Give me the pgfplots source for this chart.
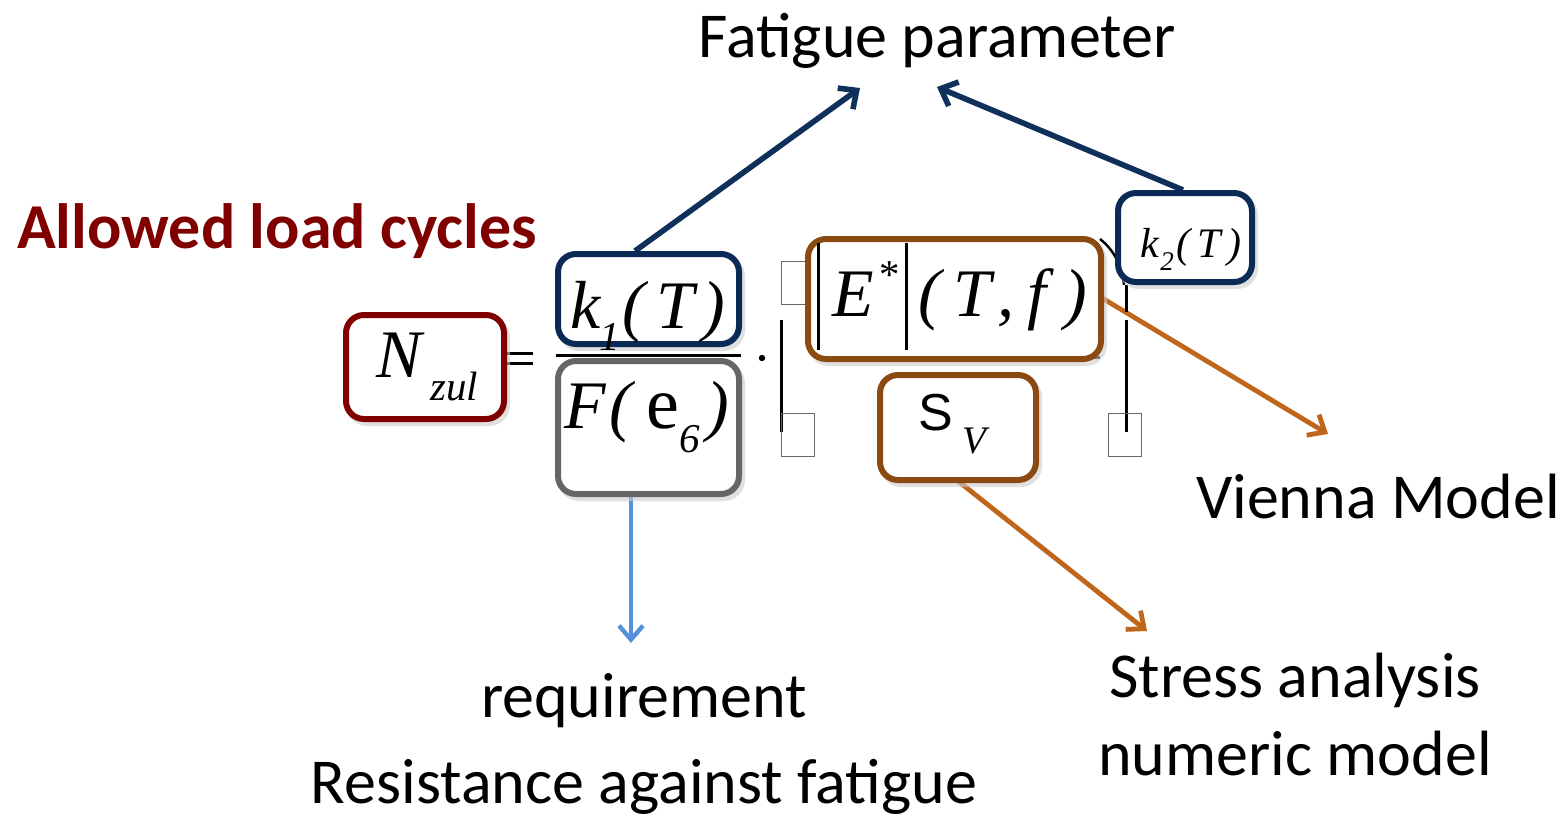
\documentclass[border=0pt]{standalone}
\usepackage{pgfplots}
\pgfplotsset{compat=1.18}
\usepackage{fontspec}
\setmainfont{Carlito}
\newfontfamily\tnr{Liberation Serif}
\newfontfamily\arial{Liberation Sans}
\usetikzlibrary{arrows.meta}
\definecolor{dred}{HTML}{800000}
\definecolor{navy}{HTML}{0B2A55}
\definecolor{navyarrow}{HTML}{10305C}
\definecolor{boxgray}{HTML}{666666}
\definecolor{brownbox}{HTML}{8B4A12}
\definecolor{orangearrow}{HTML}{C0661A}
\definecolor{bluearrow}{HTML}{5590DA}
\newcommand{\txt}{\fontsize{32}{38}\selectfont}
\newcommand{\mbig}{\fontsize{34}{40}\selectfont\tnr\itshape}
\newcommand{\msub}{\fontsize{20.5}{24}\selectfont\tnr\itshape}
\newcommand{\msmall}{\fontsize{21}{25}\selectfont\tnr\itshape}
\newcommand{\mtiny}{\fontsize{13.5}{16}\selectfont\tnr\itshape}
\newcommand{\rbox}[5]{%
  \draw[black!20, line width=3pt, opacity=0.6, rounded corners=9pt] (#1+3,#2+4) rectangle (#3+3,#4+4);
  \draw[#5, line width=3pt, rounded corners=9pt, fill=white] (#1,#2) rectangle (#3,#4);}
\begin{document}
\begin{tikzpicture}
\begin{axis}[name=ax, at={(0,0)}, anchor=south west, scale only axis,
  width=781.5pt, height=409.5pt, xmin=0, xmax=1563, ymin=0, ymax=819,
  y dir=reverse, hide axis, clip=false]
% arrows
\draw[navyarrow, line width=2.8pt, -{Straight Barb[length=7pt,width=13pt]}] (635,251) -- (860,88);
\draw[navyarrow, line width=2.8pt, -{Straight Barb[length=7pt,width=13pt]}] (1183,190) -- (937,87);
\draw[orangearrow, line width=2.4pt, -{Straight Barb[length=7pt,width=12pt]}] (1102,298) -- (1328,434);
\draw[orangearrow, line width=2.4pt, -{Straight Barb[length=7pt,width=12pt]}] (958,481) -- (1147,631);
\draw[bluearrow, line width=2.2pt, -{Straight Barb[length=7pt,width=12pt]}] (631,497) -- (631,643);
% formula lines
\draw[line width=1.5pt] (507,353.5) -- (533,353.5);
\draw[line width=1.5pt] (507,363.5) -- (533,363.5);
\draw[line width=1.5pt] (556,355) -- (741,355);
\fill (762,358) circle[radius=1.6pt];
\draw[line width=1.5pt] (781,320) -- (781,432);
\draw[line width=1.5pt] (1126,285) -- (1126,312);
\draw[line width=1.5pt] (1126,320) -- (1126,432);
\draw[line width=1.5pt] (815,357) -- (1100,357);
\draw[line width=1.2pt] (1100,239) .. controls (1114,250) and (1122,266) .. (1124,285);
\draw[black!60, line width=0.5pt] (781,261) rectangle (813,304);
\draw[black!60, line width=0.5pt] (781,413) rectangle (814,456);
\draw[black!60, line width=0.5pt] (1108,413) rectangle (1141,456);
% boxes
\rbox{346}{315}{504}{419}{dred}
\rbox{558}{254}{739}{344}{navy}
\rbox{558}{361}{739}{494}{boxgray}
\rbox{808}{239}{1101}{359}{brownbox}
\rbox{880}{375}{1036}{480}{brownbox}
\rbox{1118}{193}{1252}{282}{navy}
% inner bars
\draw[line width=1.5pt] (818,243) -- (818,350);
\draw[line width=1.5pt] (906,243) -- (906,350);
% formula glyphs
\node[anchor=base west, inner sep=0, font=\mbig] at (376,377) {N};
\node[anchor=base west, inner sep=0, font=\msub] at (430,400) {zul};
\node[anchor=base west, inner sep=0, font=\mbig] at (570,328) {k};
\node[anchor=base west, inner sep=0, font=\msub] at (599,350) {1};
\node[anchor=base west, inner sep=0, font=\mbig] at (622,328) {(};
\node[anchor=base west, inner sep=0, font=\mbig] at (656,328) {T};
\node[anchor=base west, inner sep=0, font=\mbig] at (702,328) {)};
\node[anchor=base west, inner sep=0, font=\mbig] at (564,428) {F};
\node[anchor=base west, inner sep=0, font=\mbig] at (609,428) {(};
\node[anchor=base west, inner sep=0, font=\fontsize{37}{44}\selectfont\tnr] at (646,428) {e};
\node[anchor=base west, inner sep=0, font=\msub] at (679,452) {6};
\node[anchor=base west, inner sep=0, font=\mbig] at (706,428) {)};
\node[anchor=base west, inner sep=0, font=\mbig] at (832,316) {E};
\node[anchor=base west, inner sep=0, font=\msub] at (877,288) {*};
\node[anchor=base west, inner sep=0, font=\mbig] at (918,316) {(};
\node[anchor=base west, inner sep=0, font=\mbig] at (953,316) {T};
\node[anchor=base west, inner sep=0, font=\mbig] at (997,316) {,};
\node[anchor=base west, inner sep=0, font=\mbig] at (1027,316) {f};
\node[anchor=base west, inner sep=0, font=\mbig] at (1064,316) {)};
\node[anchor=base west, inner sep=0, font=\fontsize{26}{30}\selectfont\arial] at (918,430) {S};
\node[anchor=base west, inner sep=0, font=\fontsize{19.5}{23}\selectfont\tnr\itshape] at (962,453) {V};
\node[anchor=base west, inner sep=0, font=\msmall] at (1140,257) {k};
\node[anchor=base west, inner sep=0, font=\mtiny] at (1160,270) {2};
\node[anchor=base west, inner sep=0, font=\msmall] at (1176,257) {(};
\node[anchor=base west, inner sep=0, font=\msmall] at (1197,257) {T};
\node[anchor=base west, inner sep=0, font=\msmall] at (1227,257) {)};
% text labels
\node[anchor=base, inner sep=0, font=\txt] at (937,57) {Fatigue parameter};
\node[anchor=base, inner sep=0, font=\fontsize{32}{38}\selectfont\bfseries, text=dred] at (277,248) {Allowed load cycles};
\node[anchor=base, inner sep=0, font=\txt] at (1378,518) {Vienna Model};
\node[anchor=base, inner sep=0, font=\txt] at (1295,697) {Stress analysis};
\node[anchor=base, inner sep=0, font=\txt] at (1295,775) {numeric model};
\node[anchor=base, inner sep=0, font=\txt] at (644,717) {requirement};
\node[anchor=base, inner sep=0, font=\txt] at (644,803) {Resistance against fatigue};
\end{axis}
\pgfresetboundingbox
\path[use as bounding box] (ax.south west) rectangle (ax.north east);
\end{tikzpicture}
\end{document}
